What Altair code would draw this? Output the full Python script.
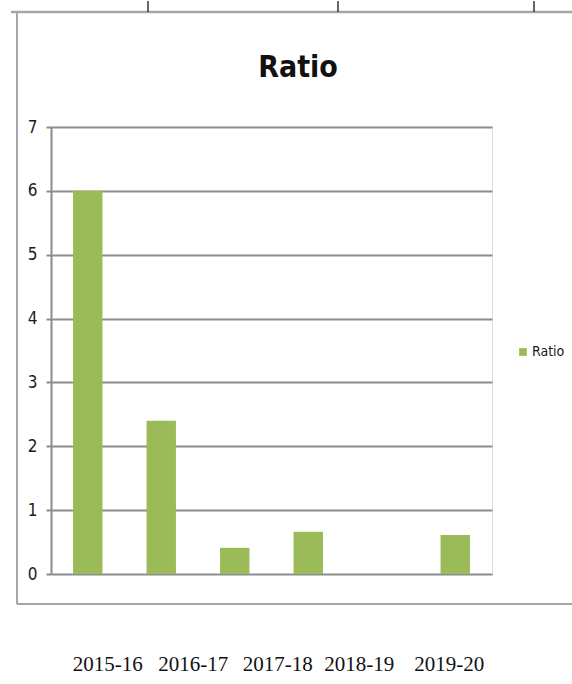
import altair as alt
import pandas as pd

# ---- data ----
slots = ["2015-16", "2016-17", "2017-18", "2018-19", " ", "2019-20"]
ratio = [6.0, 2.4, 0.41, 0.66, None, 0.61]
series = ["Ratio"] * len(slots)
y_ticks = [0, 1, 2, 3, 4, 5, 6, 7]
title_text = "Ratio"

df = pd.DataFrame({"year": slots, "value": ratio, "series": series})

NARROW = "Liberation Sans Narrow, DejaVu Sans Condensed, Arial Narrow, Liberation Sans, sans-serif"
SERIF = "Liberation Serif, Times New Roman, serif"
GREEN = "#9BBB59"
GRID = "#8c8c8c"

label_offset_expr = (
    "datum.value=='2015-16'?20:datum.value=='2016-17'?32:"
    "datum.value=='2017-18'?43:datum.value=='2018-19'?51:datum.value=='2019-20'?-6:0"
)

bars = alt.Chart(df).mark_bar(color=GREEN).encode(
    x=alt.X(
        "year:N",
        sort=slots,
        scale=alt.Scale(domain=slots, paddingInner=0.6, paddingOuter=0.3),
        axis=alt.Axis(
            title=None,
            domain=False,
            ticks=False,
            labelAngle=0,
            labelFont=SERIF,
            labelFontSize=21,
            labelColor="#111111",
            labelPadding=79,
            labelOffset={"expr": label_offset_expr},
        ),
    ),
    y=alt.Y(
        "value:Q",
        scale=alt.Scale(domain=[0, 7], nice=False),
        axis=alt.Axis(
            title=None,
            values=y_ticks,
            grid=True,
            gridColor=GRID,
            gridWidth=2,
            domain=True,
            domainColor=GRID,
            domainWidth=2,
            ticks=True,
            tickSize=5,
            tickColor=GRID,
            tickWidth=2,
            labelFont=NARROW,
            labelFontSize=17,
            labelColor="#1a1a1a",
            labelPadding=9,
        ),
    ),
    color=alt.Color(
        "series:N",
        scale=alt.Scale(domain=["Ratio"], range=[GREEN]),
        legend=alt.Legend(
            title=None,
            orient="none",
            legendX=465,
            legendY=218,
            symbolType="square",
            symbolSize=60,
            symbolStrokeWidth=0,
            labelFont=NARROW,
            labelFontSize=14,
            labelColor="#1a1a1a",
            labelOffset=2,
        ),
    ),
)

one = alt.Data(values=[{"k": 1}])


def hrule(x1, x2, y, color, width):
    return alt.Chart(one).mark_rule(color=color, strokeWidth=width).encode(
        x=alt.value(x1), x2=alt.value(x2), y=alt.value(y)
    )


def vrule(x, y1, y2, color, width):
    return alt.Chart(one).mark_rule(color=color, strokeWidth=width).encode(
        x=alt.value(x), y=alt.value(y1), y2=alt.value(y2)
    )


FRAME = "#a6a6a6"
frame = [
    hrule(-40, 521, -115, FRAME, 2.5),
    vrule(-34, -115, 477, FRAME, 2),
    hrule(-34, 521, 477, FRAME, 2),
    vrule(97, -126, -115, "#333333", 1.5),
    vrule(287, -126, -115, "#333333", 1.5),
    vrule(483, -126, -115, "#333333", 1.5),
]

title = alt.Chart(one).mark_text(
    font=NARROW,
    fontSize=30,
    fontWeight="bold",
    color="#111111",
    align="center",
    baseline="alphabetic",
).encode(x=alt.value(247), y=alt.value(-50), text=alt.value(title_text))

chart = alt.layer(bars, *frame, title).properties(
    width=441,
    height=447,
    autosize=alt.AutoSizeParams(type="none"),
    padding={"left": 51, "top": 127, "right": 80, "bottom": 110},
).configure_view(stroke=None).configure(background="white")

chart.save("out.html", embed_options={"renderer": "svg", "actions": False})
